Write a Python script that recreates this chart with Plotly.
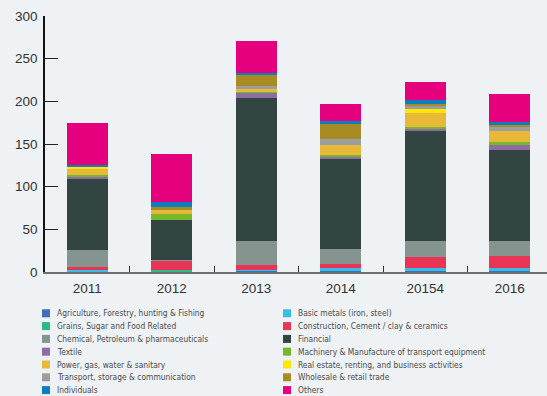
import plotly.graph_objects as go

years = ["2011", "2012", "2013", "2014", "20154", "2016"]

sectors = [
    "Agriculture, Forestry, hunting & Fishing",
    "Basic metals (iron, steel)",
    "Grains, Sugar and Food Related",
    "Construction, Cement / clay & ceramics",
    "Chemical, Petroleum & pharmaceuticals",
    "Financial",
    "Textile",
    "Machinery & Manufacture of transport equipment",
    "Power, gas, water & sanitary",
    "Real estate, renting, and business activities",
    "Transport, storage & communication",
    "Wholesale & retail trade",
    "Individuals",
    "Others",
]

colors = [
    "#3d6fb6", "#38bde8", "#2db686", "#e83455", "#869490", "#324543", "#8c6da6",
    "#76b82a", "#e8b939", "#ffe800", "#9c9e9e", "#a88b22", "#0a7dc3", "#e5007d",
]

agriculture = [0.0, 0.5, 2.0, 2.0, 2.0, 1.0]
basic_metals = [2.0, 0.0, 0.5, 2.3, 2.3, 3.5]
grains = [0.0, 1.5, 0.0, 0.0, 0.0, 0.0]
construction = [3.9, 11.4, 5.5, 4.7, 12.9, 14.1]
chemical = [19.6, 1.2, 28.2, 17.6, 18.8, 17.6]
financial = [83.3, 46.9, 167.7, 105.6, 129.0, 106.7]
textile = [3.5, 0.0, 5.9, 3.5, 3.5, 7.0]
machinery = [1.2, 5.9, 1.2, 1.2, 1.2, 2.3]
power = [7.4, 6.2, 3.5, 11.7, 16.4, 12.9]
real_estate = [2.3, 0.0, 0.0, 0.0, 4.7, 0.0]
transport = [0.0, 0.0, 3.5, 7.0, 4.7, 5.9]
wholesale = [0.8, 2.0, 12.9, 17.6, 1.2, 1.2]
individuals = [1.2, 6.7, 2.3, 3.5, 4.7, 3.5]
others = [49.3, 55.5, 37.5, 19.9, 21.1, 32.8]

series = [agriculture, basic_metals, grains, construction, chemical, financial,
          textile, machinery, power, real_estate, transport, wholesale,
          individuals, others]

y_ticks = [0, 50, 100, 150, 200, 250, 300]

W, H = 547, 396
ML, MR, MT, MB = 45, 0, 16, 124
PW, PH = W - ML - MR, H - MT - MB

def px_x(x):
    return (x - ML) / PW

def px_y(y):
    return (H - MB - y) / PH

fig = go.Figure()
for name, vals, col in zip(sectors, series, colors):
    fig.add_trace(go.Bar(x=years, y=vals, name=name, marker_color=col,
                         marker_line_width=0, showlegend=False))

bg = "#eef2f5"
fig.update_layout(
    width=W, height=H,
    margin=dict(l=ML, r=MR, t=MT, b=MB, pad=0),
    barmode="stack", bargap=0.51,
    paper_bgcolor=bg, plot_bgcolor=bg,
    font=dict(family="Liberation Sans, Arial, sans-serif", color="#333333", size=13),
)
fig.update_xaxes(
    type="category", range=[-0.5, -0.5 + PW / 84.5],
    showline=True, linecolor="#6f6f6f", linewidth=2,
    ticks="inside", tickson="boundaries", ticklen=6, tickcolor="#333333", tickwidth=1,
    showgrid=False, zeroline=False, tickfont=dict(size=13.5, color="#333333"),
    ticklabelstandoff=3,
)
fig.update_yaxes(
    range=[0, 300], tickvals=y_ticks, ticktext=[str(v) for v in y_ticks],
    showline=True, linecolor="#111111", linewidth=1.5,
    ticks="inside", ticklen=13, tickcolor="#222222", tickwidth=1,
    showgrid=False, zeroline=False, tickfont=dict(size=13.5, color="#333333"),
    ticklabelstandoff=3,
)

# manual two-column legend (row-wise order matches stacking order)
col_x = [42, 283]
row_y0, row_dy = 313.3, 12.8
shapes = []
annotations = []
for i, (name, col) in enumerate(zip(sectors, colors)):
    c, r = i % 2, i // 2
    cx = col_x[c]
    cy = row_y0 + r * row_dy
    shapes.append(dict(type="rect", xref="paper", yref="paper",
                       x0=px_x(cx), x1=px_x(cx + 8), y0=px_y(cy + 4), y1=px_y(cy - 4),
                       fillcolor=col, line=dict(width=0)))
    annotations.append(dict(xref="paper", yref="paper", x=px_x(cx + 13), y=px_y(cy),
                            xanchor="left", yanchor="middle", showarrow=False, text=name,
                            font=dict(family="DejaVu Sans Condensed, Liberation Sans Narrow, sans-serif",
                                      size=8.4, color="#4a4a4a")))
fig.update_layout(shapes=shapes, annotations=annotations)

fig.write_html("out.html")
